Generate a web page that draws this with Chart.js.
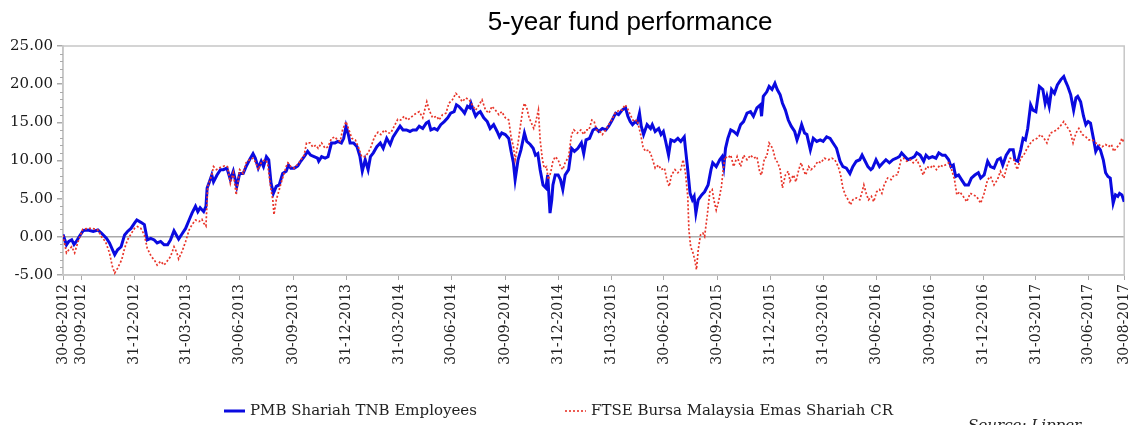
<!DOCTYPE html>
<html><head><meta charset="utf-8">
<script src="https://cdn.jsdelivr.net/npm/chart.js@4/dist/chart.umd.min.js"></script>
<style>html,body{margin:0;padding:0;background:#fff;}canvas{display:block;}</style>
</head><body>
<canvas id="c" width="1145" height="425"></canvas>
<script>
const chartTitle = '5-year fund performance';
const sourceNote = 'Source: Lipper';
const startDate = '30-08-2012';
const tickLabels = ['30-08-2012','30-09-2012','31-12-2012','31-03-2013','30-06-2013','30-09-2013','31-12-2013','31-03-2014','30-06-2014','30-09-2014','31-12-2014','31-03-2015','30-06-2015','30-09-2015','31-12-2015','31-03-2016','30-06-2016','30-09-2016','31-12-2016','31-03-2017','30-06-2017','30-08-2017'];
const yTicks = [-5,0,5,10,15,20,25];
const seriesNames = ['PMB Shariah TNB Employees','FTSE Bursa Malaysia Emas Shariah CR'];

// days since 30-08-2012
const fundDays = [0,6,10,15,19,23,28,35,43,52,
60,66,75,80,89,94,100,106,111,117,
123,127,134,140,145,151,157,162,168,174,
180,185,191,195,199,205,211,217,222,228,
232,236,242,246,248,251,256,259,265,271,
276,282,288,293,299,304,310,315,321,327,
331,336,341,345,350,354,358,362,367,372,
378,384,388,392,398,404,409,415,421,426,
432,438,440,445,451,456,462,468,473,479,
483,487,491,494,500,506,511,515,520,525,
529,534,540,546,551,557,563,568,574,580,
585,591,597,602,608,613,619,625,629,633,
639,644,650,656,662,667,673,677,681,687,
691,696,700,702,706,710,714,718,724,730,
735,741,747,751,755,761,767,771,775,778,
783,788,794,798,804,809,813,817,821,826,
831,834,838,841,843,847,852,856,860,864,
870,875,880,886,892,896,900,906,912,917,
922,928,934,939,945,951,956,962,968,972,
976,980,985,988,992,995,999,1005,1011,1014,
1019,1025,1029,1033,1037,1042,1046,1052,1058,1063,
1069,1071,1075,1079,1083,1086,1089,1093,1099,1104,
1110,1115,1118,1124,1130,1134,1137,1140,1144,1149,
1154,1160,1166,1171,1177,1183,1188,1194,1200,1202,
1205,1211,1215,1220,1225,1229,1234,1238,1243,1248,
1253,1259,1263,1267,1271,1276,1280,1286,1291,1297,
1303,1308,1314,1320,1325,1331,1337,1342,1348,1354,
1359,1365,1371,1375,1379,1385,1390,1393,1399,1405,
1411,1416,1422,1428,1434,1439,1443,1449,1454,1460,
1465,1469,1475,1481,1485,1490,1496,1502,1507,1513,
1518,1524,1528,1532,1536,1541,1546,1552,1558,1563,
1569,1575,1579,1585,1591,1596,1602,1608,1613,1617,
1623,1629,1635,1638,1643,1648,1652,1656,1660,1665,
1669,1674,1680,1686,1690,1693,1697,1701,1706,1711,
1717,1722,1725,1729,1734,1739,1743,1746,1751,1756,
1760,1764,1768,1773,1777,1781,1785,1790,1794,1798,
1802,1807,1811,1815,1818,1822,1826];
const fundValues = [0.3,-1.05,-0.6,-0.4,-1.0,-0.6,0.05,0.83,0.9,0.7,
0.9,0.5,-0.2,-0.8,-2.35,-1.7,-1.3,0.25,0.7,1.1,
1.8,2.2,1.9,1.6,-0.4,-0.2,-0.4,-0.8,-0.6,-1.05,
-1.05,-0.4,0.8,0.25,-0.3,0.4,1.1,2.2,3.1,4.0,
3.3,3.8,3.3,4.0,6.4,7.0,8.1,7.2,8.1,8.8,
8.8,9.0,7.5,8.6,6.6,8.3,8.3,9.2,10.1,10.9,
10.3,9.0,9.9,9.2,10.5,10.1,7.0,5.7,6.6,6.8,
8.3,8.6,9.4,9.0,9.0,9.3,9.9,10.5,11.2,10.7,
10.5,10.3,9.9,10.5,10.3,10.5,12.3,12.3,12.5,12.3,
12.9,14.5,13.4,12.3,12.3,11.8,10.5,8.6,10.1,8.8,
10.5,11.0,11.8,12.3,11.6,12.9,12.1,13.1,13.8,14.5,
14.0,14.0,13.8,14.0,14.0,14.5,14.2,14.9,15.1,14.0,
14.2,14.0,14.7,15.1,15.6,16.2,16.4,17.3,17.1,16.6,
16.2,17.1,16.9,17.5,16.6,15.8,16.2,16.4,15.6,15.1,
14.2,14.7,13.8,13.1,13.6,13.4,12.9,11.2,9.7,7.5,
10.1,11.4,13.6,12.5,12.1,11.6,10.7,10.9,8.8,6.8,
6.4,8.1,3.1,4.85,6.8,8.1,8.1,7.5,6.2,8.1,
8.8,11.6,11.2,11.6,12.3,10.9,12.7,12.9,14.0,14.2,
13.8,14.2,14.0,14.5,15.3,16.2,16.0,16.6,16.9,15.8,
15.1,14.7,15.1,14.9,16.2,14.5,13.4,14.7,14.2,14.7,
13.8,14.2,13.4,13.8,12.5,10.7,12.7,12.5,12.9,12.5,
13.1,11.6,8.8,5.7,4.85,5.3,3.1,4.85,5.5,5.9,
6.8,8.8,9.7,9.2,10.1,10.5,9.2,11.6,12.9,14.0,
13.8,13.4,14.7,15.1,16.2,16.4,15.8,16.9,17.3,15.8,
18.4,19.0,19.7,19.3,20.1,19.3,18.6,17.5,16.6,15.3,
14.5,13.8,12.7,13.6,14.7,13.6,13.4,11.4,12.9,12.5,
12.7,12.5,13.1,12.9,12.3,11.6,9.9,9.2,9.0,8.3,
9.2,9.9,10.1,10.7,10.1,9.2,8.8,9.0,10.1,9.2,
9.7,10.1,9.7,10.1,10.3,10.5,11.0,10.5,10.1,10.3,
10.5,11.0,10.7,9.9,10.7,10.3,10.5,10.3,11.0,10.7,
10.7,10.1,9.2,9.4,7.9,8.1,7.5,6.8,6.8,7.7,
8.1,8.4,7.7,8.1,9.9,9.2,9.0,10.1,10.3,9.4,
10.7,11.4,11.4,10.1,9.9,11.4,12.9,12.7,14.2,17.3,
16.6,16.4,19.7,19.3,17.5,18.4,17.1,19.3,18.8,19.9,
20.6,21.0,20.4,19.7,18.6,16.6,18.2,18.4,17.7,15.8,
14.7,15.1,14.9,12.9,11.2,11.8,11.4,10.1,8.4,7.9,
7.7,4.4,5.5,5.3,5.7,5.5,4.6];

const indexDays = [0,6,10,15,20,26,34,43,51,60,
68,73,80,85,89,94,101,106,111,118,
123,128,134,140,145,152,157,162,168,174,
179,185,191,196,199,205,211,217,222,228,
234,239,242,246,249,256,259,264,271,278,
283,288,293,298,304,310,315,321,327,332,
336,341,347,352,357,361,363,367,371,377,
384,387,392,398,406,415,419,425,430,435,
439,445,451,456,462,468,472,477,481,487,
492,497,503,509,514,520,525,530,536,542,
547,553,559,564,570,576,581,587,593,598,
604,608,613,619,626,630,636,643,647,653,
659,664,670,676,681,687,693,699,704,710,
716,721,727,733,738,744,750,755,761,767,
771,775,778,783,787,791,794,798,802,806,
810,813,818,821,825,828,832,835,839,843,
847,852,856,860,864,870,875,879,885,891,
896,900,905,910,914,918,924,928,934,939,
944,950,957,962,967,971,976,982,988,994,
998,1002,1008,1013,1019,1025,1029,1035,1039,1043,
1047,1053,1058,1063,1067,1071,1075,1077,1080,1084,
1087,1090,1093,1097,1101,1104,1109,1113,1117,1120,
1124,1128,1133,1136,1139,1144,1149,1154,1160,1166,
1171,1177,1183,1188,1194,1199,1202,1207,1211,1215,
1221,1226,1230,1234,1238,1243,1248,1251,1257,1261,
1266,1270,1274,1278,1283,1287,1293,1299,1304,1310,
1317,1323,1328,1334,1338,1342,1346,1351,1355,1359,
1365,1371,1375,1378,1382,1386,1391,1395,1400,1405,
1409,1413,1419,1425,1430,1436,1442,1446,1452,1458,
1463,1469,1475,1480,1486,1492,1497,1503,1509,1514,
1518,1524,1529,1534,1538,1543,1549,1555,1561,1566,
1572,1579,1585,1591,1596,1602,1608,1613,1619,1625,
1630,1636,1642,1648,1653,1659,1665,1670,1676,1682,
1688,1693,1699,1705,1710,1716,1722,1727,1733,1738,
1743,1748,1754,1760,1765,1771,1777,1782,1788,1794,
1799,1804,1808,1812,1818,1822,1826];
const indexValues = [0.2,-2.1,-1.7,-1.3,-2.1,-0.6,1.0,1.1,1.1,0.9,
-0.2,-0.6,-2.1,-3.9,-4.75,-4.1,-3.0,-1.5,-0.4,0.5,
1.1,1.35,1.1,0.25,-1.5,-2.6,-3.0,-3.7,-3.2,-3.7,
-3.2,-2.6,-1.3,-2.1,-2.9,-1.9,-0.6,0.9,1.6,2.2,
2.0,2.3,1.8,1.4,6.6,8.1,9.2,8.8,9.1,9.3,
9.2,7.0,8.4,5.5,8.8,8.3,9.7,10.1,10.3,9.7,
8.8,9.7,10.1,9.7,6.6,4.85,2.9,4.85,5.9,7.5,
9.2,9.7,9.2,9.0,9.7,10.7,12.3,12.3,11.75,12.0,
11.6,12.3,11.6,11.8,12.9,13.1,12.7,12.5,14.0,15.1,
14.0,12.9,12.7,11.6,10.5,10.5,11.0,11.8,13.1,13.7,
13.4,14.0,13.6,13.6,14.5,15.4,15.3,15.8,15.3,15.6,
16.0,16.2,16.4,15.6,17.7,16.6,15.6,15.8,15.3,16.0,
16.2,17.5,17.95,18.8,18.4,17.7,18.2,17.95,17.3,16.6,
17.3,17.95,16.6,16.2,17.1,16.6,16.0,16.4,15.6,15.3,
13.1,11.8,10.1,12.3,14.5,16.6,17.5,16.9,15.6,14.9,
14.2,14.9,16.6,12.7,10.1,9.0,9.2,7.5,8.4,9.9,
10.5,10.1,9.2,8.8,9.7,10.5,13.4,14.0,13.6,14.0,
13.4,14.0,14.0,15.3,15.1,14.0,13.8,13.4,14.0,14.7,
15.3,16.2,16.6,16.6,17.3,16.9,16.0,15.1,15.3,13.4,
11.8,11.2,11.4,10.5,9.0,9.4,8.8,9.0,7.5,6.6,
8.1,8.8,8.4,8.8,10.1,8.4,5.3,0.9,-1.3,-2.1,
-3.0,-4.3,-1.7,0.25,0.5,0.05,3.1,5.9,6.2,4.85,
3.5,4.6,6.6,8.8,10.5,10.3,10.7,9.2,10.5,9.2,
10.7,10.1,10.7,10.3,10.5,8.4,8.1,10.3,10.5,12.3,
11.6,10.1,9.7,8.8,6.4,8.1,8.6,7.3,8.1,7.2,
8.8,9.7,8.8,8.1,9.2,8.8,9.2,9.9,9.7,10.3,
10.1,10.3,10.1,9.2,8.1,6.4,5.5,4.85,4.2,4.85,
5.1,4.85,5.9,6.8,5.7,4.85,5.3,4.6,5.9,6.2,
5.7,6.8,7.7,7.5,8.1,8.1,10.1,10.3,9.9,10.1,
9.7,10.1,9.2,8.1,9.2,9.0,9.4,8.8,9.4,9.2,
9.4,9.7,8.8,7.5,5.5,5.9,5.3,4.6,5.7,5.5,
5.3,4.4,5.7,7.5,7.9,6.8,7.5,8.6,7.7,9.4,
10.3,10.1,8.8,10.3,10.7,11.6,12.3,12.7,12.9,13.4,
12.9,12.3,13.6,13.8,14.0,14.5,15.1,14.5,13.8,12.3,
13.6,14.2,13.4,13.1,12.7,12.7,12.3,12.1,11.8,12.1,
11.8,12.1,11.2,11.6,12.1,12.9,12.3];

function dayOf(s){const p=s.split('-').map(Number);const q=startDate.split('-').map(Number);return Math.round((Date.UTC(p[2],p[1]-1,p[0])-Date.UTC(q[2],q[1]-1,q[0]))/864e5);}
const tickDays = tickLabels.map(dayOf);

const BLUE = '#0a0ae0';
const RED = '#e8352a';
const SERIF = '"DejaVu Serif", serif';

const deco = {
  id:'deco',
  beforeDatasetsDraw(chart){
    const {ctx, chartArea:a, scales:{y}} = chart;
    ctx.save();
    ctx.strokeStyle='#c6c6c6'; ctx.lineWidth=1.5;
    ctx.strokeRect(a.left, a.top, a.right-a.left, a.bottom-a.top);
    ctx.strokeStyle='#aaaaaa'; ctx.lineWidth=1;
    for(let v=yTicks[0]; v<=yTicks[yTicks.length-1]; v++){
      if(yTicks.includes(v)) continue;
      const py=Math.round(y.getPixelForValue(v))+0.5;
      ctx.beginPath(); ctx.moveTo(a.left-3,py); ctx.lineTo(a.left,py); ctx.stroke();
    }
    ctx.restore();
  },
  afterDraw(chart){
    const ctx = chart.ctx;
    ctx.save();
    ctx.fillStyle='#000';
    ctx.font='26px "Liberation Sans", Arial, sans-serif';
    ctx.textAlign='center'; ctx.textBaseline='alphabetic';
    ctx.fillText(chartTitle, 630, 30);
    // legend
    const ly = 411;
    ctx.lineWidth=3; ctx.strokeStyle=BLUE; ctx.setLineDash([]);
    ctx.beginPath(); ctx.moveTo(224,ly); ctx.lineTo(245,ly); ctx.stroke();
    ctx.lineWidth=1.6; ctx.strokeStyle=RED; ctx.setLineDash([2,2]);
    ctx.beginPath(); ctx.moveTo(565,ly); ctx.lineTo(586,ly); ctx.stroke();
    ctx.setLineDash([]);
    ctx.font='15px '+SERIF; ctx.textAlign='left'; ctx.textBaseline='middle'; ctx.fillStyle='#222';
    ctx.fillText(seriesNames[0], 250, ly);
    ctx.fillText(seriesNames[1], 591, ly);
    ctx.font='italic 15px '+SERIF; ctx.textBaseline='alphabetic';
    ctx.fillText(sourceNote, 968, 430);
    ctx.restore();
  }
};

new Chart(document.getElementById('c'), {
  type:'line',
  data:{datasets:[
    {label:seriesNames[1], data:indexDays.map((d,i)=>({x:d,y:indexValues[i]})), borderColor:RED, borderWidth:1.7, borderDash:[2,2], pointRadius:0, fill:false, tension:0, order:0},
    {label:seriesNames[0], data:fundDays.map((d,i)=>({x:d,y:fundValues[i]})), borderColor:BLUE, borderWidth:3, pointRadius:0, fill:false, tension:0, order:1}
  ]},
  options:{
    responsive:false, animation:false, devicePixelRatio:1,
    layout:{padding:{left:0,right:11,top:46,bottom:0}},
    plugins:{legend:{display:false}, title:{display:false}, tooltip:{enabled:false}},
    scales:{
      x:{type:'linear', min:0, max:tickDays[tickDays.length-1],
        afterBuildTicks:s=>{s.ticks=tickDays.map(v=>({value:v}));},
        afterFit:s=>{s.height=150;},
        ticks:{autoSkip:false, minRotation:90, maxRotation:90, padding:4, color:'#222', font:{family:SERIF, size:14},
          callback:(v)=>{const i=tickDays.indexOf(v); return i>=0?tickLabels[i]:'';}},
        grid:{drawOnChartArea:false, drawTicks:true, tickLength:5, tickColor:'#aaaaaa'},
        border:{display:true, color:'#c6c6c6', width:1.5}
      },
      y:{min:yTicks[0], max:yTicks[yTicks.length-1],
        afterBuildTicks:s=>{s.ticks=yTicks.map(v=>({value:v}));},
        afterFit:s=>{s.width=63;},
        ticks:{padding:4, color:'#1a1a1a', font:{family:SERIF, size:15}, callback:v=>Number(v).toFixed(2)},
        grid:{color:c=>(c.tick&&c.tick.value===0)?'#aaaaaa':'rgba(0,0,0,0)', lineWidth:1.5, drawTicks:true, tickLength:6, tickColor:'#aaaaaa'},
        border:{display:true, color:'#c6c6c6', width:1.5}
      }
    }
  },
  plugins:[deco]
});
</script>
</body></html>
